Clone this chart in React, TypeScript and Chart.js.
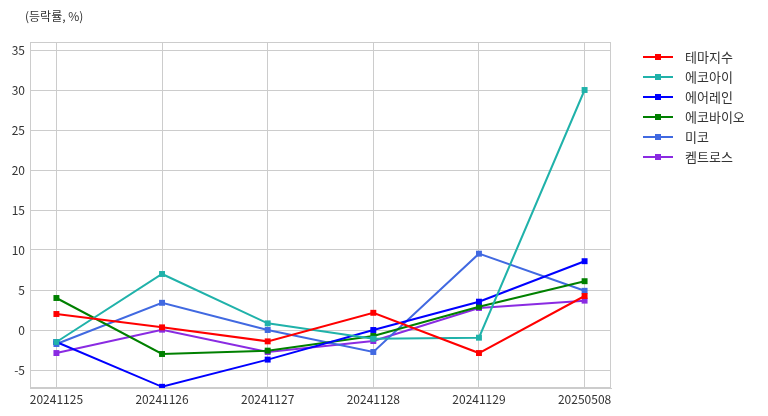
import React, { useEffect, useRef } from "react";
import { Chart, registerables } from "chart.js";

Chart.register(...registerables);

const categories = ["20241125", "20241126", "20241127", "20241128", "20241129", "20250508"];
const yTickValues = [-5, 0, 5, 10, 15, 20, 25, 30, 35];

const seriesNames = ["테마지수", "에코아이", "에어레인", "에코바이오", "미코", "켐트로스"];
const themeIndex = [2.0, 0.33, -1.42, 2.15, -2.88, 4.25];
const ecoEye = [-1.5, 7.0, 0.83, -1.1, -0.96, 30.0];
const airRain = [-1.5, -7.1, -3.7, 0.0, 3.54, 8.6];
const ecoBio = [4.0, -3.0, -2.58, -0.75, 2.9, 6.1];
const miko = [-1.75, 3.4, 0.0, -2.75, 9.54, 4.9];
const chemtros = [-2.88, 0.04, -2.75, -1.38, 2.75, 3.67];
const seriesColors = ["#ff0000", "#20b2aa", "#0000ff", "#008000", "#4169e1", "#8a2be2"];

const allSeries = [themeIndex, ecoEye, airRain, ecoBio, miko, chemtros];

const FONT = "'Noto Sans CJK KR', 'Noto Sans', sans-serif";

export default function App() {
  const ref = useRef<HTMLCanvasElement | null>(null);

  useEffect(() => {
    const canvas = ref.current;
    if (!canvas) return;

    const overlay = {
      id: "overlay",
      beforeDatasetsDraw(chart: any) {
        const { ctx, chartArea } = chart;
        ctx.save();
        ctx.strokeStyle = "#cccccc";
        ctx.lineWidth = 1;
        ctx.strokeRect(chartArea.left + 0.5, chartArea.top + 0.5, chartArea.right - chartArea.left - 1, chartArea.bottom - chartArea.top - 1);
        ctx.restore();
      },
      afterDraw(chart: any) {
        const { ctx } = chart;
        ctx.save();
        ctx.fillStyle = "#333333";
        ctx.font = `12px ${FONT}`;
        ctx.textBaseline = "middle";
        ctx.textAlign = "left";
        ctx.fillText("(등락률, %)", 25, 16);

        ctx.font = `13px ${FONT}`;
        chart.data.datasets.forEach((ds: any, i: number) => {
          const y = 57 + i * 20;
          ctx.strokeStyle = ds.borderColor;
          ctx.lineWidth = 2;
          ctx.beginPath();
          ctx.moveTo(643, y);
          ctx.lineTo(673, y);
          ctx.stroke();
          ctx.fillStyle = ds.borderColor;
          ctx.fillRect(655, y - 3, 6, 6);
          ctx.fillStyle = "#333333";
          ctx.fillText(ds.label, 685, y);
        });
        ctx.restore();
      },
    };

    const chart = new Chart(canvas, {
      type: "line",
      data: {
        datasets: seriesNames.map((name, i) => ({
          label: name,
          data: allSeries[i].map((v, j) => ({ x: j, y: v })),
          borderColor: seriesColors[i],
          backgroundColor: seriesColors[i],
          borderWidth: 2,
          pointStyle: "rect",
          pointRadius: 4.2,
          pointBorderWidth: 0,
          tension: 0,
        })),
      },
      options: {
        responsive: false,
        animation: false,
        layout: { padding: { left: 0, right: 157, top: 42, bottom: 0 } },
        plugins: {
          legend: { display: false },
          tooltip: { enabled: false },
          title: { display: false },
        },
        scales: {
          x: {
            type: "linear",
            min: -0.25,
            max: 5.25,
            afterBuildTicks: (scale: any) => {
              scale.ticks = categories.map((_, i) => ({ value: i }));
            },
            afterFit: (scale: any) => {
              scale.height = 28;
            },
            ticks: {
              callback: (v: any) => categories[v as number] ?? "",
              color: "#333333",
              font: { family: FONT, size: 12 },
              padding: 4,
              maxRotation: 0,
              autoSkip: false,
            },
            grid: { color: "#cccccc", drawTicks: false, lineWidth: 1 },
            border: { display: true, color: "#cccccc" },
          },
          y: {
            type: "linear",
            min: -7.25,
            max: 36,
            afterBuildTicks: (scale: any) => {
              scale.ticks = yTickValues.map((v) => ({ value: v }));
            },
            afterFit: (scale: any) => {
              scale.width = 30;
            },
            ticks: {
              color: "#333333",
              font: { family: FONT, size: 12 },
              padding: 5,
            },
            grid: { color: "#cccccc", drawTicks: false, lineWidth: 1 },
            border: { display: true, color: "#cccccc" },
          },
        },
      },
      plugins: [overlay],
    } as any);

    return () => chart.destroy();
  }, []);

  return (
    <div style={{ position: "fixed", left: 0, top: 0, width: 768, height: 416, background: "#ffffff" }}>
      <canvas ref={ref} width={768} height={416} style={{ width: 768, height: 416 }} />
    </div>
  );
}
